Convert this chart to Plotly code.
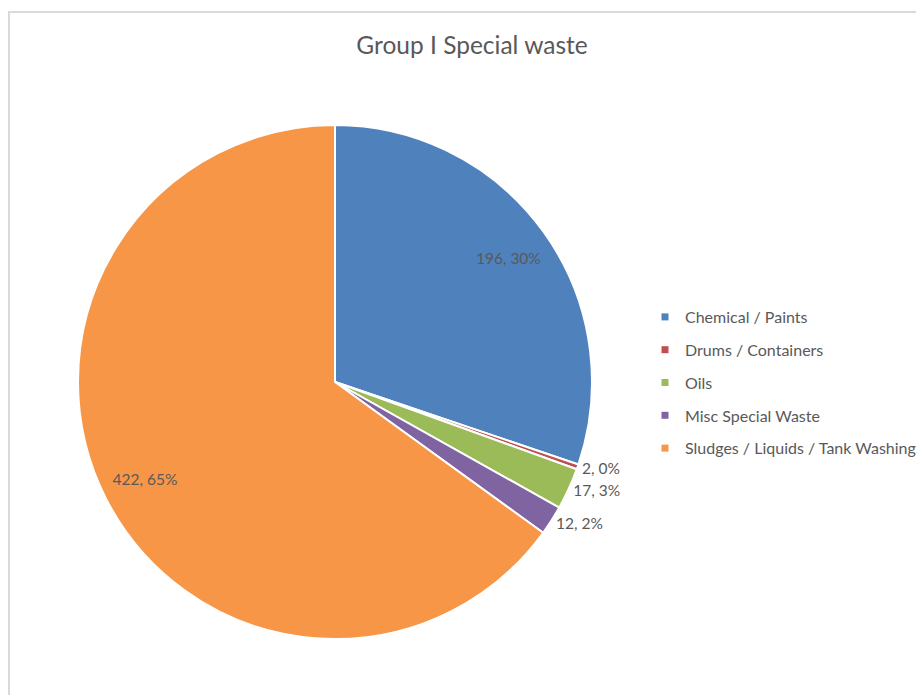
import plotly.graph_objects as go

categories = ["Chemical / Paints", "Drums / Containers", "Oils", "Misc Special Waste",
              "Sludges / Liquids / Tank Washing"]
values = [196, 2, 17, 12, 422]
colors = ["#4F81BD", "#C0504D", "#9BBB59", "#8064A2", "#F79646"]
text_positions = ["inside", "outside", "outside", "outside", "inside"]

W, H = 924, 695
OFF = 8  # page body margin
FONT = "Lato, 'Open Sans', sans-serif"
GRAY = "#595959"

cx, cy, R = 335 - OFF, 382 - OFF, 257
dom = dict(x=[(cx - R) / W, (cx + R) / W], y=[1 - (cy + R) / H, 1 - (cy - R) / H])

fig = go.Figure()
# the coloured pie
fig.add_trace(go.Pie(
    labels=categories, values=values, sort=False, direction="clockwise", rotation=0,
    marker=dict(colors=colors, line=dict(color="white", width=2)),
    textinfo="none", showlegend=False, hoverinfo="label+value+percent", domain=dom,
))
# transparent outer ring carrying the data labels (places them near the rim)
fig.add_trace(go.Pie(
    labels=categories, values=values, sort=False, direction="clockwise", rotation=0,
    hole=0.66,
    marker=dict(colors=["rgba(0,0,0,0)"] * len(values), line=dict(width=0)),
    texttemplate="%{value}, %{percent:.0%}",
    textposition=text_positions,
    insidetextorientation="horizontal",
    textfont=dict(family=FONT, size=15.5, color=GRAY),
    showlegend=False,
    hoverinfo="skip",
    domain=dom,
))

# legend entries (one group each so spacing can match)
for i, (c, col) in enumerate(zip(categories, colors)):
    fig.add_trace(go.Scatter(
        x=[None], y=[None], mode="markers", name=c,
        marker=dict(symbol="square", size=7, color=col),
        legendgroup=f"g{i}", showlegend=True,
    ))

fig.update_layout(
    width=W, height=H,
    margin=dict(l=0, r=0, t=0, b=0),
    paper_bgcolor="white", plot_bgcolor="white",
    title=dict(text="Group I Special waste", x=(472 - OFF) / W, xanchor="center",
               y=1 - (45 - OFF) / H, yanchor="middle",
               font=dict(family=FONT, size=24.5, color=GRAY)),
    xaxis=dict(visible=False), yaxis=dict(visible=False),
    legend=dict(x=637 / W, xanchor="left", y=1 - 292 / H, yanchor="top",
                font=dict(family=FONT, size=16, color=GRAY),
                tracegroupgap=9, itemsizing="trace", bgcolor="rgba(0,0,0,0)"),
    shapes=[dict(type="rect", xref="paper", yref="paper",
                 x0=(9 - OFF) / W, x1=1.05, y0=-0.05, y1=1 - (12 - OFF) / H,
                 line=dict(color="#D9D9D9", width=2), fillcolor="rgba(0,0,0,0)",
                 layer="below")],
)

fig.write_html("out.html")
